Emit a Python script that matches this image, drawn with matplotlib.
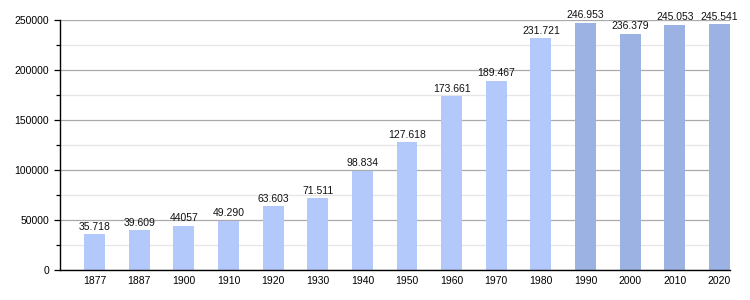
import matplotlib
matplotlib.use("Agg")
import matplotlib.pyplot as plt
from matplotlib.ticker import MultipleLocator

years = ["1877", "1887", "1900", "1910", "1920", "1930", "1940", "1950",
         "1960", "1970", "1980", "1990", "2000", "2010", "2020"]
population = [35718, 39609, 44057, 49290, 63603, 71511, 98834, 127618,
              173661, 189467, 231721, 246953, 236379, 245053, 245541]
labels = ["35.718", "39.609", "44057", "49.290", "63.603", "71.511", "98.834",
          "127.618", "173.661", "189.467", "231.721", "246.953", "236.379",
          "245.053", "245.541"]

light = "#b3c9fb"
dark = "#9bb2e3"
colors = [light] * 11 + [dark] * 4

plt.rcParams['font.family'] = ['Liberation Sans', 'DejaVu Sans']
fig = plt.figure(figsize=(7.5, 3.0), dpi=100)
ax = fig.add_axes([0.08, 0.10, 0.8933, 0.8333])

x = list(range(len(years)))
ax.bar(x, population, width=0.47, color=colors, zorder=2)
for xi, v, lab in zip(x, population, labels):
    ax.annotate(lab, (xi, v), xytext=(0, 2), textcoords="offset points",
                ha="center", va="bottom", fontsize=7.5, color="#111111")

ax.set_xlim(-0.773, 14.235)
ax.set_ylim(0, 250000)
ax.set_xticks(x)
ax.set_xticklabels(years)
ax.yaxis.set_major_locator(MultipleLocator(50000))
ax.yaxis.set_minor_locator(MultipleLocator(25000))
ax.grid(axis="y", which="major", color="#aaaaaa", linewidth=0.9, zorder=0)
ax.grid(axis="y", which="minor", color="#e6e6e6", linewidth=0.9, zorder=0)
ax.set_axisbelow(True)
ax.tick_params(axis="x", length=0, pad=4, labelsize=7.5)
ax.tick_params(axis="y", which="major", length=4, width=0.9, pad=4, labelsize=7.5)
ax.tick_params(axis="y", which="minor", length=3, width=0.9)
for s in ["top", "right"]:
    ax.spines[s].set_visible(False)
ax.spines["left"].set_linewidth(1.0)
ax.spines["bottom"].set_linewidth(1.0)

fig.savefig("out.png", dpi=100)
